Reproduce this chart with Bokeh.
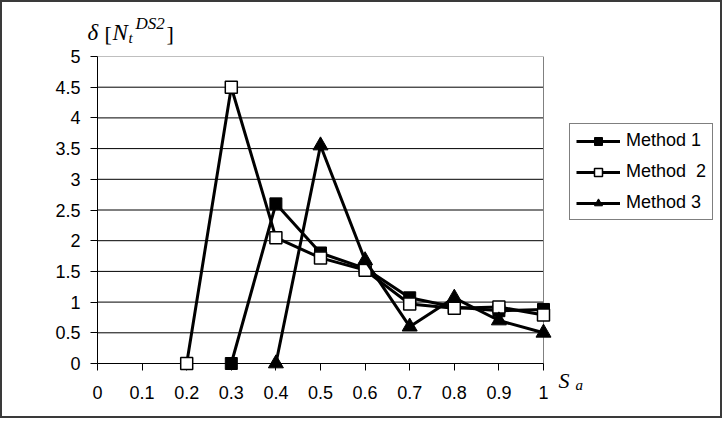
from bokeh.plotting import figure
from bokeh.models import Range1d, FixedTicker, Legend, LegendItem
from bokeh.core.properties import value
from bokeh.embed import file_html
from bokeh.resources import INLINE

# ---- data ----
x_ticks = [0, 0.1, 0.2, 0.3, 0.4, 0.5, 0.6, 0.7, 0.8, 0.9, 1]
x_tick_labels = ["0", "0.1", "0.2", "0.3", "0.4", "0.5", "0.6", "0.7", "0.8", "0.9", "1"]
y_ticks = [0, 0.5, 1, 1.5, 2, 2.5, 3, 3.5, 4, 4.5, 5]
y_tick_labels = ["0", "0.5", "1", "1.5", "2", "2.5", "3", "3.5", "4", "4.5", "5"]

method1_x = [0.3, 0.4, 0.5, 0.6, 0.7, 0.8, 0.9, 1.0]
method1_y = [0, 2.6, 1.8, 1.55, 1.07, 0.92, 0.86, 0.88]
method2_x = [0.2, 0.3, 0.4, 0.5, 0.6, 0.7, 0.8, 0.9, 1.0]
method2_y = [0, 4.5, 2.05, 1.72, 1.52, 0.97, 0.9, 0.92, 0.79]
method3_x = [0.4, 0.5, 0.6, 0.7, 0.8, 0.9, 1.0]
method3_y = [0, 3.55, 1.68, 0.6, 1.07, 0.7, 0.5]
series_names = ["Method 1", "Method  2", "Method 3"]

# ---- layout (page px) ----
OFF = 2  # css border width
FL, FR, FT, FB = 97, 543, 56, 363   # where x=0..1 and y=0..5 fall
W, H = 726, 422
X0, X1 = 0.0, 1.0
Y0, Y1 = 0.0, 5.0
x_end = X0 + (W - OFF - FL) / (FR - FL) * (X1 - X0)   # frame extends to right edge

p = figure(width=W - 2 * OFF, height=H - 2 * OFF, output_backend="svg",
           toolbar_location=None, title=None,
           x_range=Range1d(X0, x_end), y_range=Range1d(Y0, Y1),
           min_border_left=FL - OFF, min_border_right=0,
           min_border_top=FT - OFF, min_border_bottom=H - OFF - FB)
p.styles = {"border": "2px solid #3a3a3a", "margin": "0"}
p.background_fill_color = "white"
p.border_fill_color = "white"
p.outline_line_color = None

# grid: right gray edge as an x-grid line at x=1
p.xgrid.ticker = FixedTicker(ticks=[X1])
p.xgrid.grid_line_color = "#808080"
p.xgrid.grid_line_width = 1
p.ygrid.grid_line_color = None

# horizontal grid lines over the plot area only (from the y tick values)
inner = y_ticks[:-1]
p.segment(x0=[X0] * len(inner), y0=inner, x1=[X1] * len(inner), y1=inner,
          line_color="black", line_width=1, level="underlay")
p.segment(x0=[X0], y0=[Y1], x1=[X1], y1=[Y1],
          line_color="#808080", line_width=1, level="underlay")

# axes
for ax in (p.xaxis[0], p.yaxis[0]):
    ax.axis_line_color = "black"
    ax.axis_line_width = 1
    ax.major_tick_line_color = "black"
    ax.major_tick_in = 0
    ax.minor_tick_line_color = None
    ax.major_label_text_font = "Liberation Sans"
    ax.major_label_text_font_size = "18px"
    ax.major_label_text_color = "black"

p.xaxis.ticker = FixedTicker(ticks=x_ticks)
p.xaxis.major_label_overrides = dict(zip(x_ticks, x_tick_labels))
p.xaxis.major_tick_out = 7
p.xaxis.major_label_standoff = 15
p.xaxis.bounds = (X0, X1)

p.yaxis.ticker = FixedTicker(ticks=y_ticks)
p.yaxis.major_label_overrides = dict(zip(y_ticks, y_tick_labels))
p.yaxis.major_tick_out = 7
p.yaxis.major_label_standoff = 10

# series (overlay level so edge markers are not clipped by the frame)
l1 = p.line(method1_x, method1_y, line_color="black", line_width=3, level="overlay")
s1 = p.scatter(method1_x, method1_y, marker="square", size=12,
               fill_color="black", line_color="black", line_width=1, level="overlay")
l2 = p.line(method2_x, method2_y, line_color="black", line_width=3, level="overlay")
s2 = p.scatter(method2_x, method2_y, marker="square", size=12,
               fill_color="white", line_color="black", line_width=1.5, level="overlay")
l3 = p.line(method3_x, method3_y, line_color="black", line_width=3, level="overlay")
s3 = p.scatter(method3_x, method3_y, marker="triangle", size=15,
               fill_color="black", line_color="black", line_width=1, level="overlay")

legend = Legend(items=[LegendItem(label=series_names[0], renderers=[l1, s1]),
                       LegendItem(label=series_names[1], renderers=[l2, s2]),
                       LegendItem(label=series_names[2], renderers=[l3, s3])],
                location=(569 - FL, FB - 220),
                border_line_color="black", border_line_width=1,
                background_fill_color="white", background_fill_alpha=1,
                label_text_font="Liberation Sans", label_text_font_size="18px",
                label_text_color="black",
                glyph_width=44, glyph_height=20, label_height=20,
                label_standoff=6, padding=6, spacing=10, margin=0)
p.add_layout(legend)

# page px -> data helpers
def dx(px):
    return X0 + (px - FL) / (FR - FL) * (X1 - X0)

def dy(py):
    return Y0 + (FB - py) / (FB - FT) * (Y1 - Y0)

def txt(items, size, italic=True):
    p.text(x=[dx(a) for a, b, t in items], y=[dy(b) for a, b, t in items],
           text=[t for a, b, t in items],
           text_font=value("Liberation Serif"),
           text_font_style="italic" if italic else "normal",
           text_font_size=value(size), text_color="black",
           text_baseline="alphabetic", text_align="left", level="overlay")

# y title: delta [ N_t ^DS2 ]
txt([(87, 32, "\u03b4"), (112, 32, "N")], "23px")
txt([(104, 33, "["), (166, 33, "]")], "22px", italic=False)
txt([(128, 37, "t")], "15px")
txt([(135, 23, "DS2")], "17px")

# x title: S_a
txt([(558, 380, "S")], "22px")
txt([(575, 384, "a")], "15px")

open("out.html", "w").write(file_html(p, INLINE))
